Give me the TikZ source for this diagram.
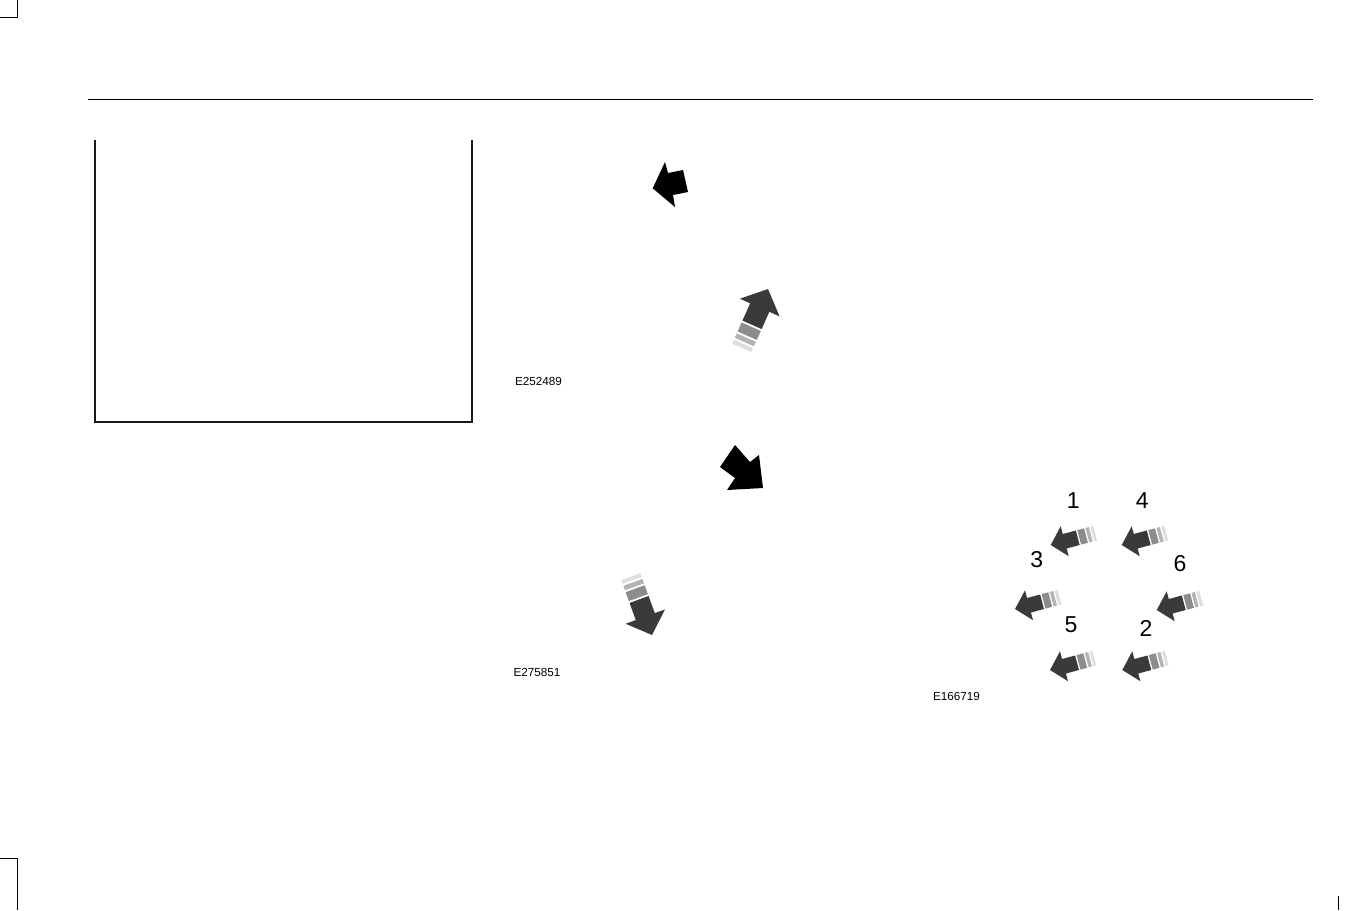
\documentclass[tikz,border=0pt]{standalone}
\usepackage{fontspec}
\setmainfont{Liberation Sans}
\definecolor{arrowdark}{HTML}{3A3A3A}
\definecolor{bandA}{HTML}{8C8C8C}
\definecolor{bandB}{HTML}{B4B4B4}
\definecolor{bandC}{HTML}{DEDEDE}
\begin{document}
\begin{tikzpicture}[x=1pt,y=-1pt,
    codelabel/.style={inner sep=0pt,font=\fontsize{11.7}{13}\selectfont},
    seatnum/.style={inner sep=0pt,font=\fontsize{23}{26}\selectfont},
    fadearrow/.pic={
      \fill[arrowdark] (0,0) -- (-14.5,15.5) -- (-14.5,7.5) -- (-28,7.5)
        -- (-28,-7.5) -- (-14.5,-7.5) -- (-14.5,-15.5) -- cycle;
      \fill[bandA] (-29.5,7.5) rectangle (-36.5,-7.5);
      \fill[bandB] (-38,7.5) rectangle (-41.5,-7.5);
      \fill[bandC] (-43,7.5) rectangle (-46,-7.5);
    }]
    \useasboundingbox (0,0) rectangle (1359,910);

    % Crop marks
    \draw[line width=1pt] (0,17.7) -- (17.7,17.7) -- (17.7,0);
    \draw[line width=1pt] (0,858) -- (17.7,858) -- (17.7,910);
    \draw[line width=1pt] (1338.3,896) -- (1338.3,910);

    % Header rule and open box
    \draw[line width=1pt] (88,99) -- (1313,99);
    \draw[line width=2pt,draw=black!90] (95,140) -- (95,421.5) -- (472.3,421.5) -- (472.3,140);

    % Black arrows
    \fill (652.7,188.3) -- (665,162) -- (668,173) -- (683,170)
      -- (688,192) -- (673,195) -- (675,207) -- cycle;
    \fill (735,445) -- (750,462) -- (759,455) -- (763,488)
      -- (727,490) -- (735,478) -- (720,467) -- cycle;

    % Fading arrows
    \coordinate (up) at (768,289);
    \coordinate (down) at (652,635);
    \pic[rotate=66,scale=1.4] at (up) {fadearrow};
    \pic[rotate=-70,scale=1.35] at (down) {fadearrow};

    % Seat arrows
    \coordinate (s1) at (1050.7,545);
    \coordinate (s4) at (1121.7,545);
    \coordinate (s3) at (1015,609);
    \coordinate (s6) at (1156.7,610);
    \coordinate (s5) at (1050,670);
    \coordinate (s2) at (1122.3,670);
    \foreach \s in {s1,s2,s3,s4,s5,s6}
      \pic[rotate=195] at (\s) {fadearrow};

    \node[seatnum] (n1) at (1073.3,501) {1};
    \node[seatnum] (n4) at (1142.3,501) {4};
    \node[seatnum] (n3) at (1036.7,559.5) {3};
    \node[seatnum] (n6) at (1180,563.5) {6};
    \node[seatnum] (n5) at (1071,625) {5};
    \node[seatnum] (n2) at (1146,628.5) {2};

    % Figure codes
    \node[codelabel] (codeA) at (538.5,381) {E252489};
    \node[codelabel] (codeB) at (537,672) {E275851};
    \node[codelabel] (codeC) at (956.5,696) {E166719};
\end{tikzpicture}
\end{document}
